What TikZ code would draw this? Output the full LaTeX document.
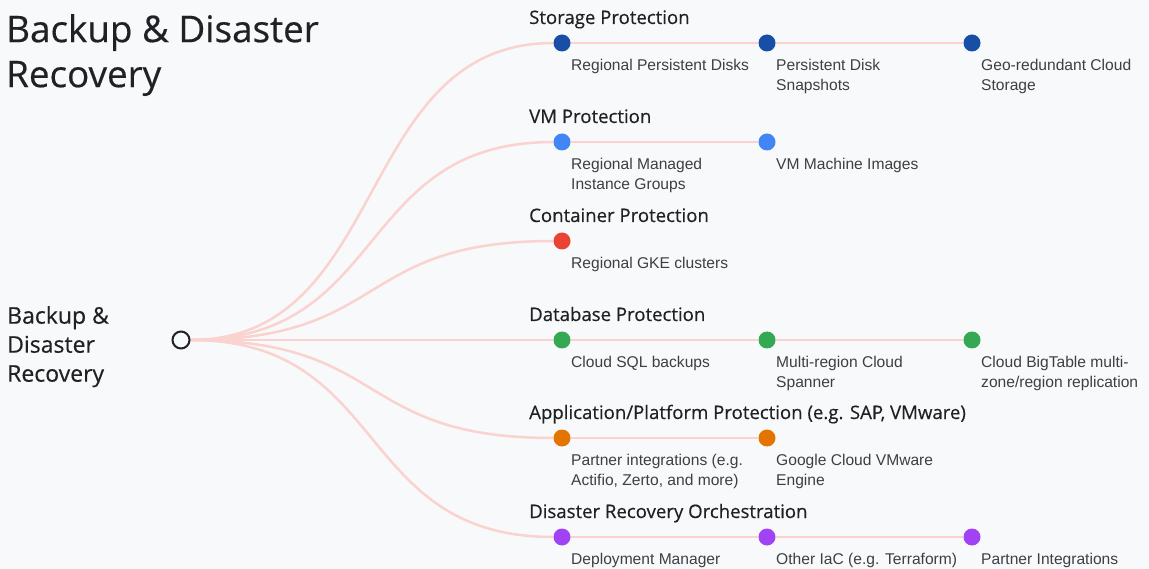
\documentclass[tikz,border=0pt]{standalone}
\usepackage{fontspec}
\setmainfont{Liberation Sans}
\newfontfamily\headfont[FakeBold=0.4]{Open Sans}
\usetikzlibrary{backgrounds}
\definecolor{bgcol}{HTML}{F8F9FA}
\definecolor{linkcol}{HTML}{FAD2CF}
\definecolor{inkcol}{HTML}{202124}
\definecolor{labcol}{HTML}{3C4043}
\definecolor{cstore}{HTML}{174EA6}
\definecolor{cvm}{HTML}{4285F4}
\definecolor{ccont}{HTML}{EA4335}
\definecolor{cdb}{HTML}{34A853}
\definecolor{capp}{HTML}{E37400}
\definecolor{cdr}{HTML}{A142F4}
\tikzset{
  dot/.style={circle,fill=#1,minimum size=17pt,inner sep=0pt},
  head/.style={anchor=base west,inner sep=0pt,text=inkcol,font=\headfont\fontsize{18.6}{22}\selectfont},
  lab/.style={anchor=north west,inner sep=0pt,align=left,text=labcol,font=\fontsize{15.6}{19.5}\selectfont},
  link/.style={draw=linkcol,line width=2.5pt}
}
\begin{document}
\begin{tikzpicture}[x=1pt,y=-1pt]
    \useasboundingbox (0,0) rectangle (1149,569);
    % title and root
    \node[anchor=north west,inner sep=0pt,align=left,text=inkcol,font=\headfont\fontsize{36.8}{45}\selectfont] (title) at (6,14) {Backup \& Disaster\\Recovery};
    \node[anchor=north west,inner sep=0pt,align=left,text=inkcol,font=\headfont\fontsize{23}{29}\selectfont] (rootlab) at (7,306) {Backup \&\\Disaster\\Recovery};
    \node[circle,draw=inkcol,line width=2pt,fill=bgcol,minimum size=17pt,inner sep=0pt] (root) at (181,340) {};
    % dots
    \node[dot=cstore] (s1) at (562,43) {};
    \node[dot=cstore] (s2) at (767,43) {};
    \node[dot=cstore] (s3) at (972,43) {};
    \node[dot=cvm] (v1) at (562,142) {};
    \node[dot=cvm] (v2) at (767,142) {};
    \node[dot=ccont] (c1) at (562,241) {};
    \node[dot=cdb] (d1) at (562,340) {};
    \node[dot=cdb] (d2) at (767,340) {};
    \node[dot=cdb] (d3) at (972,340) {};
    \node[dot=capp] (a1) at (562,438) {};
    \node[dot=capp] (a2) at (767,438) {};
    \node[dot=cdr] (r1) at (562,537) {};
    \node[dot=cdr] (r2) at (767,537) {};
    \node[dot=cdr] (r3) at (972,537) {};
    % group headings
    \node[head] (sh) at (529,24) {Storage Protection};
    \node[head] (vh) at (529,123) {VM Protection};
    \node[head] (ch) at (529,222) {Container Protection};
    \node[head] (dh) at (529,321) {Database Protection};
    \node[head] (ah) at (529,419) {Application/Platform Protection (e.g. SAP, VMware)};
    \node[head] (rh) at (529,518) {Disaster Recovery Orchestration};
    % item labels
    \node[lab] at (571,59) {Regional Persistent Disks};
    \node[lab] at (776,59) {Persistent Disk\\Snapshots};
    \node[lab] at (981,59) {Geo-redundant Cloud\\Storage};
    \node[lab] at (571,158) {Regional Managed\\Instance Groups};
    \node[lab] at (776,158) {VM Machine Images};
    \node[lab] at (571,257) {Regional GKE clusters};
    \node[lab] at (571,356) {Cloud SQL backups};
    \node[lab] at (776,356) {Multi-region Cloud\\Spanner};
    \node[lab] at (981,356) {Cloud BigTable multi-\\zone/region replication};
    \node[lab] at (571,454) {Partner integrations (e.g.\\Actifio, Zerto, and more)};
    \node[lab] at (776,454) {Google Cloud VMware\\Engine};
    \node[lab] at (571,553) {Deployment Manager};
    \node[lab] at (776,553) {Other IaC (e.g. Terraform)};
    \node[lab] at (981,553) {Partner Integrations};
    \begin{scope}[on background layer]
        \fill[bgcol] (0,0) rectangle (1149,569);
        \draw[link] (root.east) .. controls +(200,0) and +(-200,0) .. (s1.west);
        \draw[link] (root.east) .. controls +(200,0) and +(-200,0) .. (v1.west);
        \draw[link] (root.east) .. controls +(200,0) and +(-200,0) .. (c1.west);
        \draw[link] (root.east) -- (d1.west);
        \draw[link] (root.east) .. controls +(200,0) and +(-200,0) .. (a1.west);
        \draw[link] (root.east) .. controls +(200,0) and +(-200,0) .. (r1.west);
        \draw[link] (s1)--(s2)--(s3);
        \draw[link] (v1)--(v2);
        \draw[link] (d1)--(d2)--(d3);
        \draw[link] (a1)--(a2);
        \draw[link] (r1)--(r2)--(r3);
    \end{scope}
\end{tikzpicture}
\end{document}
